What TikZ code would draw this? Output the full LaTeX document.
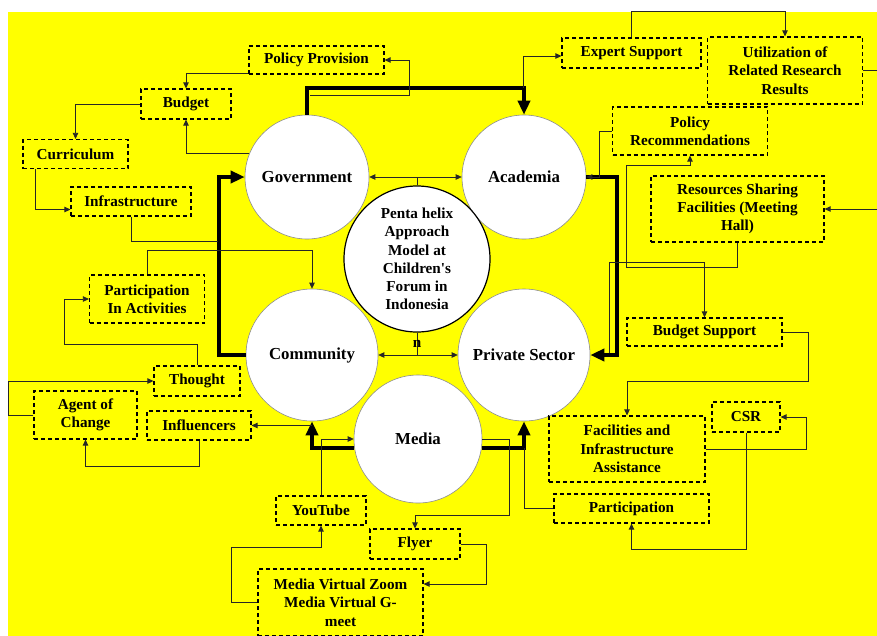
\documentclass[tikz,border=0pt]{standalone}
\usepackage{fontspec}
\setmainfont{Liberation Serif}[Ligatures=TeXOff]
\usetikzlibrary{arrows.meta,calc}
\newcommand\bxfont{\bfseries\fontsize{15.2}{18.3}\selectfont}
\newcommand\acfont{\bfseries\fontsize{16.8}{18.3}\selectfont}
\definecolor{bgyellow}{RGB}{255,255,0}
\begin{document}
\begin{tikzpicture}[x=1pt,y=-1pt,
  box/.style={draw=black, dash pattern=on 4pt off 3pt, line width=1.2pt,
    inner sep=0pt, font=\bxfont, align=center},
  actor/.style={circle, draw=black!45, line width=0.6pt, fill=white,
    inner sep=0pt, font=\acfont, align=center},
  link/.style={draw=black!85, line width=0.8pt, -{Triangle[length=6pt,width=5.5pt]}},
  twoway/.style={draw=black!85, line width=0.8pt,
    {Triangle[length=6pt,width=5.5pt]}-{Triangle[length=6pt,width=5.5pt]}},
  plain/.style={draw=black!85, line width=0.8pt},
  heavy/.style={draw=black, line width=4pt, -{Triangle[length=14pt,width=12pt]}},
]
% canvas
\useasboundingbox (0,0) rectangle (877,635);
\clip (0,0) rectangle (877,635);
\fill[white] (0,0) rectangle (877,635);
\fill[bgyellow] (8,12) rectangle (877,640);

% the five actors and the model
\node[actor, minimum size=124pt] (gov) at (307,177) {Government};
\node[actor, minimum size=124pt] (aca) at (524,177) {Academia};
\node[actor, minimum size=132pt] (com) at (312,355) {Community};
\node[actor, minimum size=132pt] (prv) at (524,355) {Private Sector};
\node[actor, minimum size=128pt] (med) at (418,439) {Media};
\node[actor, draw=black, line width=1.2pt, minimum size=146pt, font=\bxfont] (ctr) at (417,259)
  {Penta helix\\Approach\\Model at\\Children's\\Forum in\\Indonesia};

% roles
\node[box, minimum width=135pt, minimum height=28pt] (pp) at (316.5,60) {Policy Provision};
\node[box, minimum width=90pt, minimum height=30pt] (bud) at (186,104) {Budget};
\node[box, minimum width=105pt, minimum height=29pt] (cur) at (75.5,154) {Curriculum};
\node[box, minimum width=120pt, minimum height=29pt] (inf) at (131,201.5) {Infrastructure};
\node[box, minimum width=115pt, minimum height=48pt] (pia) at (147,299) {Participation\\In Activities};
\node[box, minimum width=86pt, minimum height=30pt] (tho) at (197,381) {Thought};
\node[box, minimum width=103pt, minimum height=48pt] (aoc) at (85.5,415) {Agent of\\Change};
\node[box, minimum width=104pt, minimum height=29pt] (infl) at (199,425.5) {Influencers};
\node[box, minimum width=90pt, minimum height=29pt] (yt) at (321,510.5) {YouTube};
\node[box, minimum width=165pt, minimum height=67pt] (mvz) at (340.5,602.5) {Media Virtual Zoom\\Media Virtual G-\\meet};
\node[box, minimum width=90pt, minimum height=30pt] (fly) at (415,544) {Flyer};
\node[box, minimum width=155pt, minimum height=29pt] (par) at (631.5,508.5) {Participation};
\node[box, minimum width=68pt, minimum height=30pt] (csr) at (746,417) {CSR};
\node[box, minimum width=156pt, minimum height=66pt] (fac) at (627,449) {Facilities and\\Infrastructure\\Assistance};
\node[box, minimum width=155pt, minimum height=28pt] (bs) at (704.5,332) {Budget Support};
\node[box, minimum width=173pt, minimum height=66pt] (rsf) at (737.5,209) {Resources Sharing\\Facilities (Meeting\\Hall)};
\node[box, minimum width=155pt, minimum height=48pt] (pr) at (690,131) {Policy\\Recommendations};
\node[box, minimum width=139pt, minimum height=30pt] (es) at (631.5,53) {Expert Support};
\node[box, minimum width=155pt, minimum height=67pt] (util) at (785,70.5) {Utilization of\\Related Research\\Results};

% junction points on the heavy connectors
\coordinate (gtop) at (310,95);
\coordinate (atop) at (523,88);
\coordinate (cleft) at (218,241.5);
\coordinate (pbot) at (524,448);
\coordinate (pright) at (609,353);

% heavy connectors between actors
\draw[heavy] (gov.north) -- ++(0,-27) -| (aca.north);
\draw[heavy] (com.west) -- ++(-27,0) |- (gov.west);
\draw[heavy] (aca.east) -- ++(31,0) |- (prv.east);
\draw[heavy] ($(med.west)+(0,9)$) -| (com.south);
\draw[heavy] ($(med.east)+(0,9)$) -| (prv.south);

% model links
\draw[twoway] (gov.east) -- (aca.west);
\draw[plain] (ctr.north) -- (ctr.north |- gov.east);
\draw[twoway] (com.east) -- (prv.west);
\draw[plain] (ctr.south) -- (ctr.south |- com.east);
\node[font=\bxfont, inner sep=0pt] (nlab) at (417,344) {n};

% government side
\draw[link] (gtop) -| ($(pp.east)+(25,0)$) -- (pp.east);
\draw[link] ($(pp.west)+(0,13)$) -| (bud.north);
\draw[link] (gov.158) -| (bud.south);
\draw[link] (bud.west) -| (cur.north);
\draw[link] ($(cur.south)+(-40,0)$) |- ($(inf.west)+(0,8)$);
\draw[plain] (inf.south) |- (cleft);

% community side
\draw[link] (pia.north) -- ++(0,-24) -| (com.north);
\draw[link] (tho.north) -- ++(0,-21) -| ($(pia.west)+(-25,0)$) -- (pia.west);
\draw[link] (aoc.west) -- ++(-25,0) |- (tho.west);
\draw[link] (com.south |- infl.east) -- (infl.east);
\draw[link] (infl.south) -- ++(0,26) -| (aoc.south);

% media side
\draw[link] (yt.north) |- (med.west);
\draw[link] (mvz.west) -- ++(-26,0) |- ($(yt.south)+(0,22)$) -- (yt.south);
\draw[link] (med.east) -- ++(27,0) |- ($(fly.north)+(0,-13)$) -- (fly.north);
\draw[link] (fly.east) -- ++(26,0) |- ($(mvz.east)+(0,-18.5)$);

% private sector side
\draw[plain] (par.west) -| (pbot);
\draw[link] (csr.south) -- ++(0,117) -| (par.south);
\draw[link] (fac.east) -- ++(101,0) |- (csr.east);
\draw[link] (bs.east) -- ++(26,0) |- ($(fac.north)+(0,-34)$) -- (fac.north);
\draw[link] (pright) |- ($(bs.north)+(0,-55)$) -- (bs.north);

% academia side
\draw[link] (pr.west) -- ++(-13,0) |- (aca.east);
\draw[link] (rsf.south) -- ++(0,25) -| ($(pr.south)+(-64,10)$) -| (pr.south);
\draw[link] (util.east) -- ++(30,0) |- (rsf.east);
\draw[link] (es.north) -- ++(0,-26) -| (util.north);
\draw[link] (atop) |- ($(es.west)+(0,3)$);
\end{tikzpicture}
\end{document}
